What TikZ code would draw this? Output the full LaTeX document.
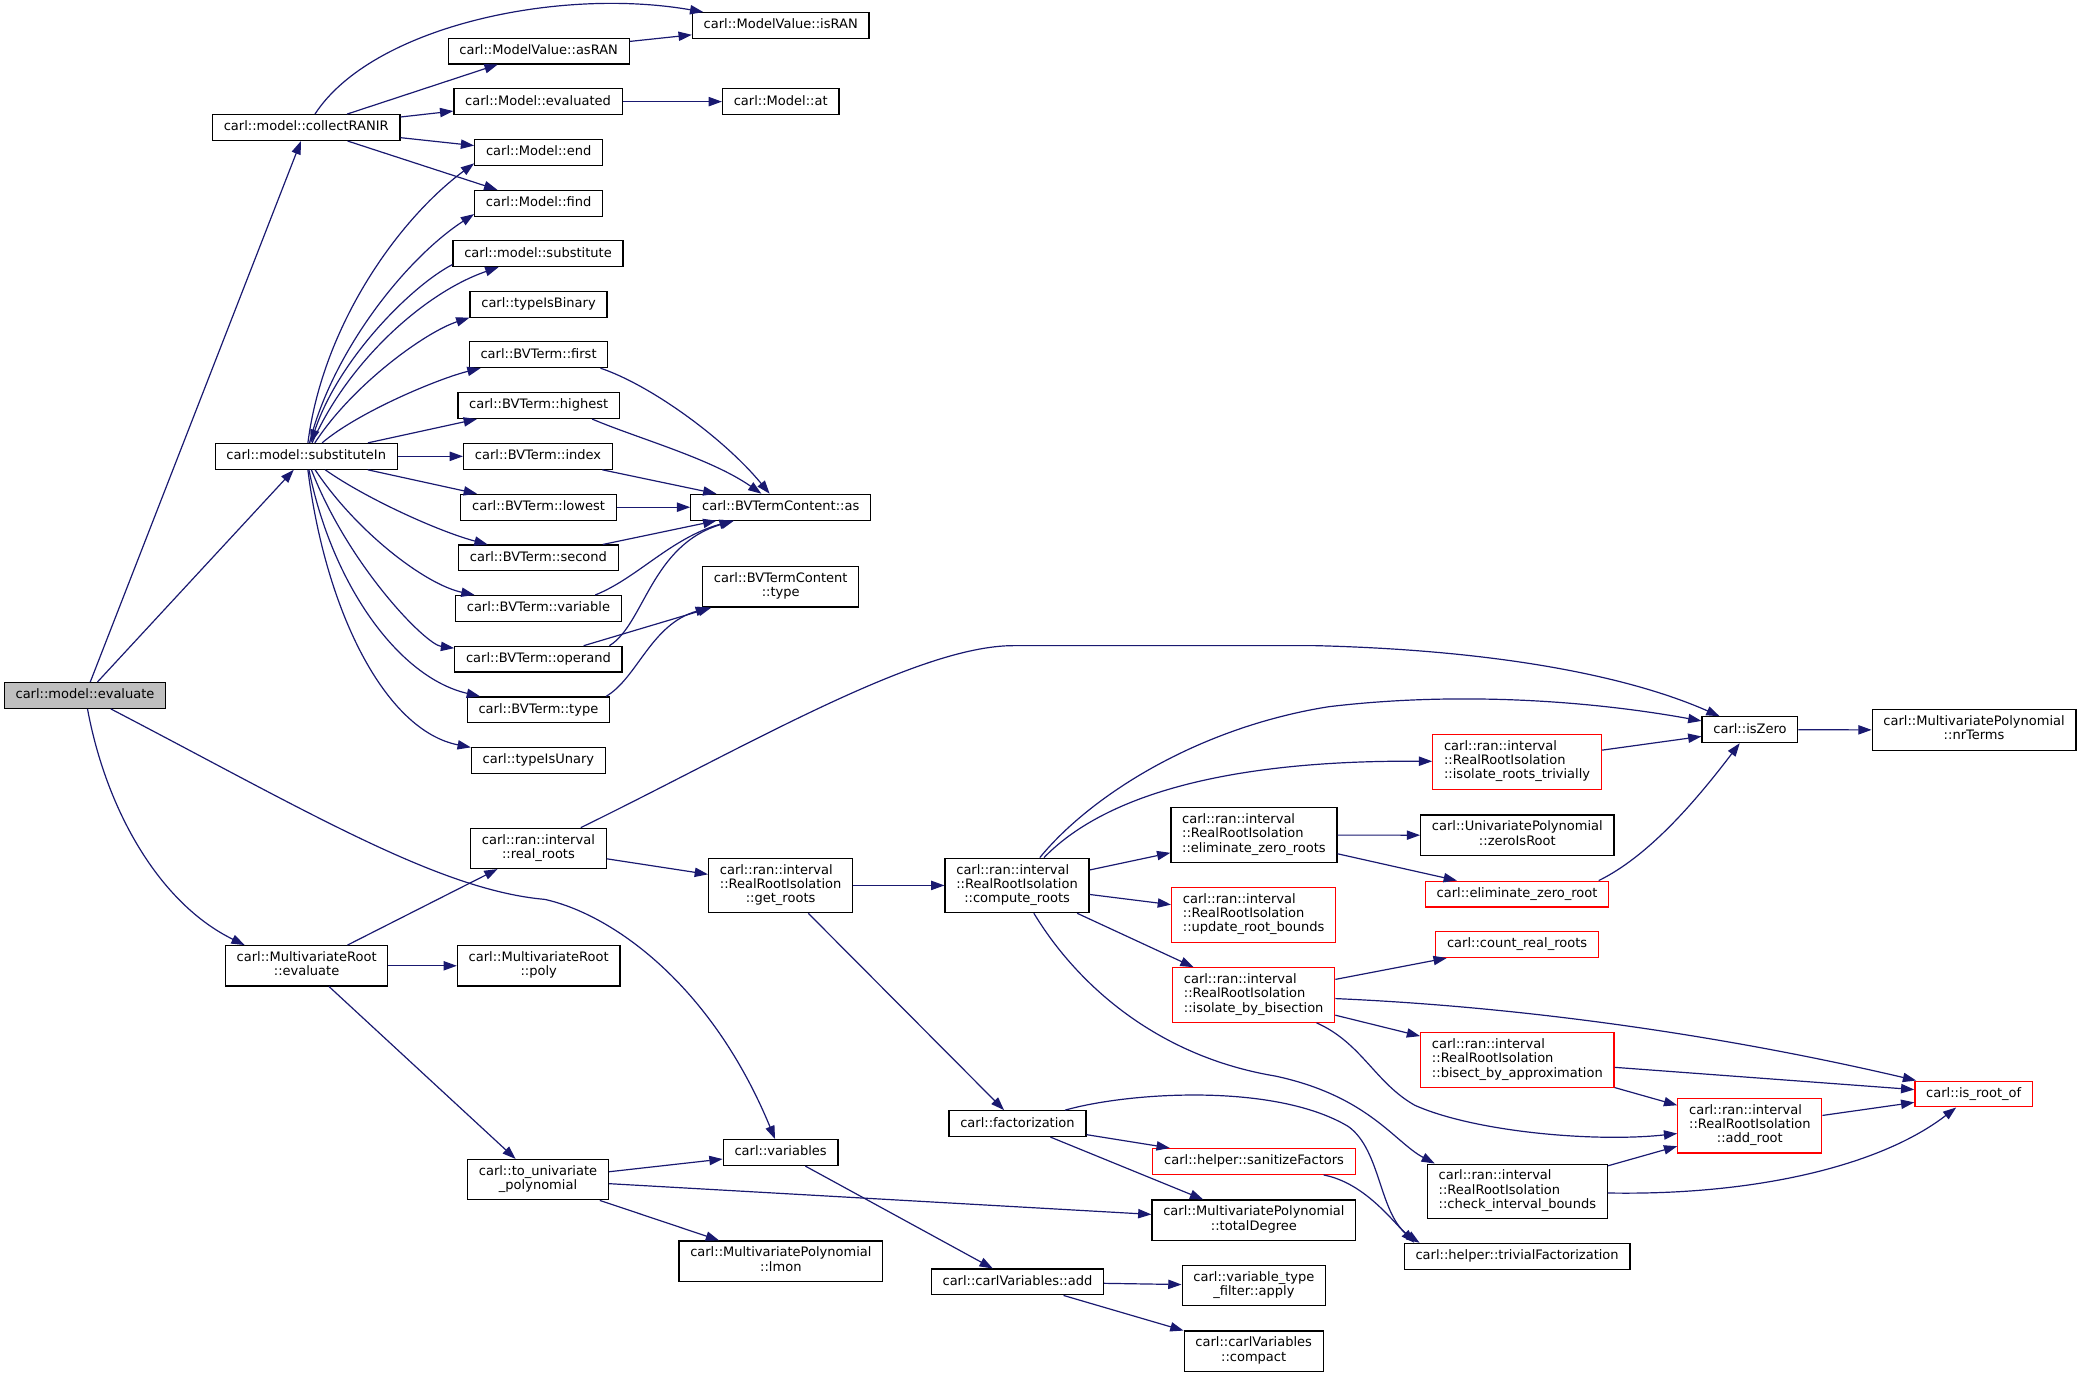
\documentclass[tikz,border=0pt]{standalone}
\usepackage{fontspec}
\setmainfont{DejaVu Sans}
\usetikzlibrary{arrows.meta}

\definecolor{edgeblue}{HTML}{191970}
\definecolor{rootgray}{HTML}{BFBFBF}

\newcommand{\twol}[2]{\begin{tabular}{@{}c@{}}#1\\#2\end{tabular}}
\newcommand{\threel}[3]{\begin{tabular}{@{}l@{}}#1\\#2\\\multicolumn{1}{@{}c@{}}{#3}\end{tabular}}

\tikzset{
  fbase/.style={draw=black, line width=0.9pt, inner xsep=8.5pt, inner ysep=0pt,
    font=\fontsize{9.8}{10.7}\selectfont},
  func/.style={fbase, minimum height=19.4pt, text height=7.4pt, text depth=2.3pt},
  func2/.style={fbase, minimum height=30.3pt},
  func3/.style={fbase, minimum height=41pt},
  redframe/.style={draw=red},
  rootfn/.style={fill=rootgray},
  call/.style={->, draw=edgeblue, line width=0.9pt},
}

\begin{document}
\begin{tikzpicture}[x=1pt, y=-1pt, >={Triangle[length=10pt,width=7pt]}]
\useasboundingbox (0,0) rectangle (1568,1037);

\node[func, rootfn] (ev) at (64,523.5) {carl::model::evaluate};

\node[func] (coll) at (230.5,96) {carl::model::collectRANIR};
\node[func] (subin) at (230.5,343.5) {carl::model::substituteIn};
\node[func2] (mrev) at (230.8,727) {\twol{carl::MultivariateRoot}{::evaluate}};

\node[func] (asran) at (405.5,38.4) {carl::ModelValue::asRAN};
\node[func] (mevald) at (405,76.5) {carl::Model::evaluated};
\node[func] (mend) at (405.5,114.8) {carl::Model::end};
\node[func] (mfind) at (405.5,153) {carl::Model::find};
\node[func] (msubst) at (405,191) {carl::model::substitute};
\node[func] (tbin) at (405.4,229) {carl::typeIsBinary};
\node[func] (bvfirst) at (405.4,267) {carl::BVTerm::first};
\node[func] (bvhigh) at (405.5,305.3) {carl::BVTerm::highest};
\node[func] (bvindex) at (405,343.5) {carl::BVTerm::index};
\node[func] (bvlow) at (405.4,381.8) {carl::BVTerm::lowest};
\node[func] (bvsec) at (405.3,420) {carl::BVTerm::second};
\node[func] (bvvar) at (405.3,458) {carl::BVTerm::variable};
\node[func] (bvop) at (405.3,496.2) {carl::BVTerm::operand};
\node[func] (bvtype) at (405.3,534.3) {carl::BVTerm::type};
\node[func] (tunary) at (405.3,572.5) {carl::typeIsUnary};
\node[func2] (rroots) at (405.3,638.6) {\twol{carl::ran::interval}{::real\_roots}};
\node[func2] (mrpoly) at (405.5,727) {\twol{carl::MultivariateRoot}{::poly}};
\node[func2] (touni) at (405,888) {\twol{carl::to\_univariate}{\_polynomial}};

\node[func] (isran) at (587.7,19.2) {carl::ModelValue::isRAN};
\node[func] (mat) at (587.7,76.5) {carl::Model::at};
\node[func] (bvcas) at (587.7,381.8) {carl::BVTermContent::as};
\node[func2] (bvctype) at (587.7,441.8) {\twol{carl::BVTermContent}{::type}};
\node[func3] (getroots) at (587.6,666.5) {\threel{carl::ran::interval}{::RealRootIsolation}{::get\_roots}};
\node[func] (vars) at (587.6,867.6) {carl::variables};
\node[func2] (lmon) at (587.8,949.3) {\twol{carl::MultivariatePolynomial}{::lmon}};

\node[func3] (comproots) at (765.6,666.5) {\threel{carl::ran::interval}{::RealRootIsolation}{::compute\_roots}};
\node[func] (factz) at (765.9,845.8) {carl::factorization};
\node[func] (cvadd) at (765.9,965) {carl::carlVariables::add};

\node[func3] (elimroots) at (943.9,628.6) {\threel{carl::ran::interval}{::RealRootIsolation}{::eliminate\_zero\_roots}};
\node[func3, redframe] (updbounds) at (943.7,688.7) {\threel{carl::ran::interval}{::RealRootIsolation}{::update\_root\_bounds}};
\node[func3, redframe] (isobisect) at (943.7,749) {\threel{carl::ran::interval}{::RealRootIsolation}{::isolate\_by\_bisection}};
\node[func, redframe] (sanitize) at (944,874.3) {carl::helper::sanitizeFactors};
\node[func2] (totdeg) at (943.9,918.5) {\twol{carl::MultivariatePolynomial}{::totalDegree}};
\node[func2] (vtfapply) at (943.9,967.8) {\twol{carl::variable\_type}{\_filter::apply}};
\node[func2] (cvcompact) at (943.7,1017) {\twol{carl::carlVariables}{::compact}};

\node[func3, redframe] (isotriv) at (1142,573.5) {\threel{carl::ran::interval}{::RealRootIsolation}{::isolate\_roots\_trivially}};
\node[func2] (zeroisroot) at (1142.2,628.7) {\twol{carl::UnivariatePolynomial}{::zeroIsRoot}};
\node[func, redframe] (elimroot) at (1142,673) {carl::eliminate\_zero\_root};
\node[func, redframe] (countroots) at (1142,711) {carl::count\_real\_roots};
\node[func3, redframe] (bisectapprox) at (1142.2,798) {\threel{carl::ran::interval}{::RealRootIsolation}{::bisect\_by\_approximation}};
\node[func3] (checkbounds) at (1142.2,896.8) {\threel{carl::ran::interval}{::RealRootIsolation}{::check\_interval\_bounds}};
\node[func] (trivfact) at (1142,945.7) {carl::helper::trivialFactorization};

\node[func] (iszero) at (1317.3,549.3) {carl::isZero};
\node[func3, redframe] (addroot) at (1317.2,847.4) {\threel{carl::ran::interval}{::RealRootIsolation}{::add\_root}};

\node[func2] (nrterms) at (1486,549.5) {\twol{carl::MultivariatePolynomial}{::nrTerms}};
\node[func, redframe] (isrootof) at (1485.7,823.5) {carl::is\_root\_of};

\draw[call] (ev) -- (coll);
\draw[call] (ev) -- (subin);
\draw[call] (ev) .. controls (80,610) and (120,680) .. ([xshift=15pt]mrev.north west);
\draw[call] (ev) .. controls (230,610) and (330,670) .. (410,677)
  .. controls (460,688) and (535,740) .. (vars);

\draw[call] (coll) .. controls (280,20) and (420,-10) .. (isran);
\draw[call] (coll) -- (asran);
\draw[call] (coll) -- (mevald);
\draw[call] (coll) -- (mend);
\draw[call] (coll) -- (mfind);
\draw[call] (asran) -- (isran);
\draw[call] (mevald) -- (mat);

\draw[call] (subin) .. controls (243,245) and (300,165) .. ([yshift=2pt]mend.south west);
\draw[call] (subin) .. controls (250,265) and (305,195) .. ([yshift=2pt]mfind.south west);
\draw[call] ([yshift=2pt]msubst.south west) .. controls (310,215) and (255,270) .. (subin);
\draw[call] (subin) .. controls (262,272) and (320,220) .. (msubst);
\draw[call] (subin) .. controls (265,290) and (320,250) .. (tbin.south west);
\draw[call] (subin) .. controls (270,310) and (330,285) .. ([xshift=9pt]bvfirst.south west);
\draw[call] (subin) -- (bvhigh);
\draw[call] (subin) -- (bvindex);
\draw[call] (subin) -- (bvlow);
\draw[call] (subin) .. controls (275,375) and (330,400) .. (bvsec);
\draw[call] (subin) .. controls (268,400) and (320,440) .. (bvvar);
\draw[call] (subin) .. controls (262,425) and (320,485) .. (bvop);
\draw[call] (subin) .. controls (250,440) and (300,510) .. (bvtype);
\draw[call] (subin) .. controls (245,460) and (290,550) .. (tunary);

\draw[call] ([xshift=-6pt]bvfirst.south east) .. controls (490,290) and (545,330) .. (bvcas);
\draw[call] ([xshift=-21pt]bvhigh.south east) .. controls (480,330) and (535,345) .. (bvcas);
\draw[call] (bvindex) -- (bvcas);
\draw[call] (bvlow) -- (bvcas);
\draw[call] (bvsec) -- (bvcas);
\draw[call] ([xshift=-20pt]bvvar.north east) .. controls (480,435) and (505,405) .. (bvcas);
\draw[call] ([xshift=-10pt]bvop.north east) .. controls (485,470) and (490,410) .. (bvcas);
\draw[call] (bvop) -- (bvctype);
\draw[call] ([xshift=-3pt]bvtype.north east) .. controls (480,510) and (490,470) .. (bvctype);

\draw[call] (mrev) -- (rroots);
\draw[call] (mrev) -- (mrpoly);
\draw[call] (mrev) -- (touni);

\draw[call] (rroots) .. controls (560,563) and (690,486) .. (763,486) -- (990,486)
  .. controls (1150,490) and (1240,515) .. (iszero);
\draw[call] (rroots) -- (getroots);
\draw[call] (getroots) -- (comproots);
\draw[call] (getroots) -- (factz);

\draw[call] (comproots) .. controls (820,600) and (900,548) .. (1000,532)
  .. controls (1100,520) and (1200,528) .. (iszero);
\draw[call] (comproots) .. controls (830,600) and (920,572) .. (isotriv);
\draw[call] (comproots) -- (elimroots);
\draw[call] (comproots) -- (updbounds);
\draw[call] (comproots) -- (isobisect);
\draw[call] (comproots) .. controls (810,740) and (870,795) .. (960,810)
  .. controls (1030,825) and (1050,860) .. ([xshift=6pt]checkbounds.north west);

\draw[call] (elimroots) -- (zeroisroot);
\draw[call] (elimroots) -- (elimroot);
\draw[call] ([xshift=-8pt]elimroot.north east) .. controls (1240,645) and (1275,605) .. (iszero);
\draw[call] (isotriv) -- (iszero);
\draw[call] (iszero) -- (nrterms);

\draw[call] (isobisect) -- (countroots);
\draw[call] (isobisect) .. controls (1150,758) and (1300,780) .. (isrootof);
\draw[call] (isobisect) -- (bisectapprox);
\draw[call] (isobisect) .. controls (1025,785) and (1035,815) .. (1065,832)
  .. controls (1110,852) and (1200,860) .. (addroot);
\draw[call] (bisectapprox) -- (isrootof);
\draw[call] (bisectapprox) -- (addroot);
\draw[call] (addroot) -- (isrootof);
\draw[call] (checkbounds) -- (addroot);
\draw[call] (checkbounds) .. controls (1320,900) and (1415,878) .. (isrootof);

\draw[call] (touni) -- (vars);
\draw[call] (touni) -- (totdeg);
\draw[call] (touni) -- (lmon);
\draw[call] (vars) -- (cvadd);
\draw[call] (cvadd) -- (vtfapply);
\draw[call] (cvadd) -- (cvcompact);

\draw[call] (factz) .. controls (850,822) and (960,815) .. (1015,848)
  .. controls (1040,866) and (1038,915) .. ([xshift=12pt]trivfact.north west);
\draw[call] (factz) -- (sanitize);
\draw[call] (factz) -- (totdeg);
\draw[call] (sanitize) .. controls (1025,890) and (1045,915) .. ([xshift=8pt]trivfact.north west);
\end{tikzpicture}
\end{document}
